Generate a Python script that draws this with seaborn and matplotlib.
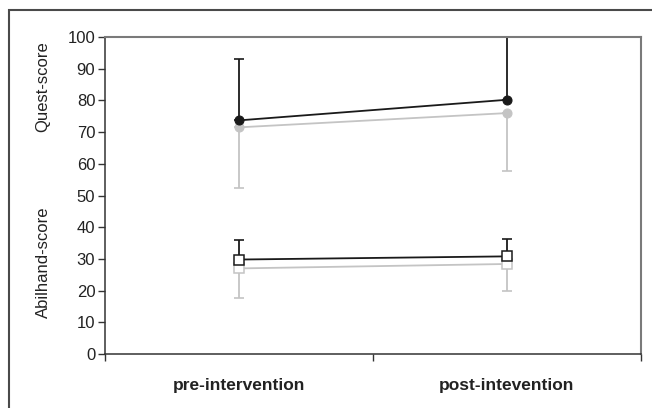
import pandas as pd
import matplotlib.pyplot as plt
import matplotlib.patches as patches
import seaborn as sns

# values
phases = ['pre-intervention', 'post-intevention']

quest_black = [73.7, 80.2]
quest_black_hi = [93.0, 100.0]
quest_grey = [71.5, 76.0]
quest_grey_lo = [52.4, 57.7]

abil_black = [29.8, 30.8]
abil_black_hi = [36.1, 36.3]
abil_grey = [27.0, 28.4]
abil_grey_lo = [17.6, 19.8]

y_ticks = list(range(0, 101, 10))

BLACK = '#1a1a1a'
GREY = '#c4c4c4'

sns.set_style('white')
plt.rcParams['font.family'] = ['Liberation Sans', 'DejaVu Sans']

fig = plt.figure(figsize=(6.52, 4.08), dpi=100)
ax = fig.add_axes([105 / 652, 1 - 354 / 408, 536 / 652, 317 / 408])


def one_sided(ax, means, ends, color):
    lo = [max(m - e, 0) for m, e in zip(means, ends)]
    hi = [max(e - m, 0) for m, e in zip(means, ends)]
    ax.errorbar(phases, means, yerr=[lo, hi], fmt='none', ecolor=color,
                elinewidth=1.3, capsize=3.5, capthick=1.2, zorder=2)


# error bars (black goes up, grey goes down)
one_sided(ax, quest_grey, quest_grey_lo, GREY)
one_sided(ax, abil_grey, abil_grey_lo, GREY)
one_sided(ax, quest_black, quest_black_hi, BLACK)
one_sided(ax, abil_black, abil_black_hi, BLACK)

# lines with markers
sns.lineplot(x=phases, y=quest_grey, sort=False, color=GREY, lw=1.3,
             marker='o', markersize=6.5, markeredgecolor=GREY,
             markerfacecolor=GREY, ax=ax, zorder=3)
sns.lineplot(x=phases, y=abil_grey, sort=False, color=GREY, lw=1.3,
             marker='s', markersize=6.5, markeredgecolor=GREY,
             markerfacecolor='white', markeredgewidth=1.1, ax=ax, zorder=3)
sns.lineplot(x=phases, y=quest_black, sort=False, color=BLACK, lw=1.3,
             marker='o', markersize=6.5, markeredgecolor=BLACK,
             markerfacecolor=BLACK, ax=ax, zorder=4)
sns.lineplot(x=phases, y=abil_black, sort=False, color=BLACK, lw=1.3,
             marker='s', markersize=6.5, markeredgecolor=BLACK,
             markerfacecolor='white', markeredgewidth=1.1, ax=ax, zorder=4)

ax.set_xlim(-0.5, 1.5)
ax.set_ylim(0, 100)
ax.set_yticks(y_ticks)
ax.set_xticks([0, 1])
ax.set_xticklabels(phases, fontsize=12.5, fontweight='bold', color='#222222')
ax.set_xticks([-0.5, 0.5, 1.5], minor=True)
ax.tick_params(axis='x', which='major', length=0, pad=17)
ax.tick_params(axis='x', which='minor', length=5, width=1, direction='out',
               color='#333333', bottom=True)
ax.tick_params(axis='y', length=5, width=1, direction='out', left=True,
               labelsize=12, labelcolor='#222222', color='#333333', pad=2)
ax.set_xlabel('')
ax.set_ylabel('')

for side in ['left', 'bottom']:
    ax.spines[side].set_color('#333333')
    ax.spines[side].set_linewidth(1.1)
for side in ['top', 'right']:
    ax.spines[side].set_color('#7a7a7a')
    ax.spines[side].set_linewidth(1.5)

fig.text(43 / 652, 1 - 87 / 408, 'Quest-score', rotation=90,
         ha='center', va='center', fontsize=12, color='#222222')
fig.text(43 / 652, 1 - 262 / 408, 'Abilhand-score', rotation=90,
         ha='center', va='center', fontsize=12, color='#222222')

# outer frame (cropped at right and bottom in the reference)
frame = patches.Rectangle((9 / 652, -0.05), 1.2, 1 - 10 / 408 + 0.05,
                          transform=fig.transFigure, fill=False,
                          edgecolor='#4a4a4a', lw=1.5)
fig.patches.append(frame)

fig.savefig('out.png', dpi=100)
